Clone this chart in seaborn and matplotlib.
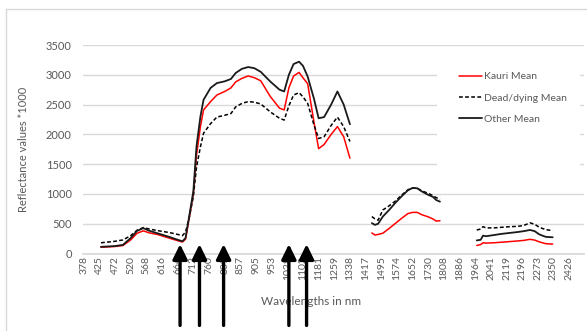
import numpy as np
import pandas as pd
import matplotlib
matplotlib.use("Agg")
import matplotlib.pyplot as plt
from matplotlib.lines import Line2D
from matplotlib.patches import Rectangle
import seaborn as sns

# Wavelength labels shown on the category axis (one label per tick slot)
wavelength_labels = [378, 425, 472, 520, 568, 616, 664, 712, 760, 809, 857, 905,
                     953, 1028, 1102, 1181, 1259, 1338, 1417, 1495, 1574, 1652,
                     1730, 1808, 1886, 1964, 2041, 2119, 2196, 2273, 2350, 2426]

# Band positions (in tick-slot units) for the three usable spectral windows
vnir_pos = [1.1, 2.0, 2.5, 3.0, 3.4, 3.8, 4.2, 4.7, 5.5, 6.0, 6.3, 6.5, 6.75, 7.0,
            7.2, 7.45, 7.65, 8.1, 8.5, 9.0, 9.4, 9.7, 10.1, 10.5, 10.9, 11.3,
            11.9, 12.5, 12.8, 13.1, 13.4, 13.75, 14.0, 14.3, 14.7, 15.0, 15.35,
            15.8, 16.2, 16.6, 17.0]
swir1_pos = [18.4, 18.6, 18.8, 19.1, 19.5, 19.9, 20.3, 20.7, 21.0, 21.3, 21.6,
             22.0, 22.3, 22.5, 22.75]
swir2_pos = [25.1, 25.35, 25.5, 25.7, 26.2, 26.7, 27.2, 27.7, 28.1, 28.5, 28.8,
             29.1, 29.5, 29.95]

# Mean reflectance (x1000) per class
kauri_vnir = [105, 118, 133, 230, 340, 380, 345, 320, 255, 215, 193, 240, 620, 1000,
              1650, 2130, 2410, 2550, 2660, 2720, 2780, 2880, 2940, 2980, 2950, 2900,
              2640, 2440, 2410, 2780, 2980, 3040, 2950, 2850, 2210, 1760, 1830,
              2000, 2130, 1960, 1600]
dead_vnir = [180, 205, 228, 300, 390, 435, 410, 385, 350, 320, 300, 360, 620, 960,
             1450, 1790, 2020, 2180, 2290, 2320, 2350, 2460, 2520, 2550, 2540, 2510,
             2380, 2270, 2240, 2480, 2660, 2700, 2630, 2520, 2160, 1930, 1960,
             2150, 2290, 2130, 1880]
other_vnir = [112, 125, 145, 260, 380, 425, 380, 340, 275, 230, 205, 260, 650, 1050,
              1800, 2300, 2580, 2780, 2860, 2890, 2930, 3030, 3100, 3130, 3110, 3050,
              2890, 2750, 2720, 3000, 3180, 3220, 3150, 2970, 2600, 2270, 2290,
              2500, 2720, 2500, 2170]

kauri_swir1 = [345, 310, 320, 340, 420, 505, 590, 670, 690, 690, 650, 615, 580, 545, 550]
dead_swir1 = [620, 580, 560, 730, 800, 880, 980, 1070, 1100, 1095, 1050, 1010, 970, 940, 910]
other_swir1 = [510, 480, 500, 620, 730, 850, 960, 1060, 1100, 1095, 1040, 985, 950, 900, 870]

kauri_swir2 = [135, 150, 180, 175, 180, 190, 200, 210, 220, 238, 225, 195, 165, 158]
dead_swir2 = [395, 410, 450, 430, 430, 440, 450, 455, 470, 515, 490, 440, 400, 385]
other_swir2 = [220, 230, 300, 290, 310, 330, 345, 360, 375, 395, 375, 320, 280, 272]

# Key wavelengths highlighted with arrows (tick-slot units)
arrow_at = [6.15, 7.39, 8.93, 13.1, 14.23]

series_names = ["Kauri Mean", "Dead/dying Mean", "Other Mean"]

segments = [
    (vnir_pos, kauri_vnir, dead_vnir, other_vnir),
    (swir1_pos, kauri_swir1, dead_swir1, other_swir1),
    (swir2_pos, kauri_swir2, dead_swir2, other_swir2),
]

sns.set_theme(style="white")
plt.rcParams["font.family"] = ["Lato", "DejaVu Sans"]
TEXT = "#595959"

W, H = 587, 331
fig = plt.figure(figsize=(W / 100, H / 100), dpi=100)
ax = fig.add_axes([83 / W, (H - 253.5) / H, (584 - 83) / W, 208.5 / H])

styles = {
    "Kauri Mean": dict(color="#ff0000", lw=1.1, ls="-"),
    "Dead/dying Mean": dict(color="#000000", lw=1.1, ls=(0, (2.5, 1.5))),
    "Other Mean": dict(color="#1a1a1a", lw=1.3, ls="-"),
}

for pos, k, d, o in segments:
    df = pd.DataFrame({"pos": pos, "Kauri Mean": k, "Dead/dying Mean": d, "Other Mean": o})
    for name in series_names:
        st = styles[name]
        sns.lineplot(data=df, x="pos", y=name, ax=ax, color=st["color"],
                     linewidth=st["lw"], linestyle=st["ls"], sort=False,
                     estimator=None, legend=False, zorder=3)

ax.set_xlim(-0.05, 31.95)
ax.set_ylim(0, 3500)
ax.set_yticks(np.arange(0, 3501, 500))
ax.set_xticks(range(len(wavelength_labels)))
ax.set_xticklabels([str(v) for v in wavelength_labels], rotation=90)
ax.tick_params(axis="x", length=0, pad=2, labelsize=7.5, labelcolor=TEXT)
ax.tick_params(axis="y", length=0, pad=8, labelsize=8, labelcolor=TEXT)
ax.grid(axis="y", color="#d9d9d9", lw=1.0, zorder=0)
ax.grid(axis="x", visible=False)
for side in ["top", "right", "left"]:
    ax.spines[side].set_visible(False)
ax.spines["bottom"].set_color("#d9d9d9")
ax.set_axisbelow(True)

ax.set_ylabel("Reflectance values *1000", fontsize=8, color=TEXT)
ax.yaxis.set_label_coords(-0.108, 0.5)
ax.set_xlabel("Wavelengths in nm", fontsize=8.5, color=TEXT)
ax.xaxis.set_label_coords(0.455, -0.205)

# Arrows marking the bands of interest, running up from below the axis
for xa in arrow_at:
    ax.annotate("", xy=(xa, 0.045), xycoords=("data", "axes fraction"),
                xytext=(xa, -0.345), textcoords=("data", "axes fraction"),
                annotation_clip=False,
                arrowprops=dict(arrowstyle="-|>,head_length=0.45,head_width=0.22",
                                mutation_scale=20, lw=2.4, color="black",
                                shrinkA=0, shrinkB=0))

# Legend panel on a white background
fig.add_artist(Rectangle((437 / W, (H - 175) / H), 143 / W, 125 / H,
                         transform=fig.transFigure, facecolor="white",
                         edgecolor="none", zorder=2))
handles = [Line2D([], [], color=styles[n]["color"], lw=styles[n]["lw"],
                  ls=styles[n]["ls"]) for n in series_names]
leg = fig.legend(handles, series_names, loc="upper left",
                 bbox_to_anchor=(455 / W, (H - 68) / H), frameon=False,
                 fontsize=7.5, handlelength=2.2, handletextpad=0.2,
                 labelspacing=1.15, borderaxespad=0)
leg.set_zorder(4)
for t in leg.get_texts():
    t.set_color(TEXT)

# Chart-area border
fig.add_artist(Line2D([6 / W, 6 / W], [0, (H - 9) / H], color="#d9d9d9", lw=1.0,
                      transform=fig.transFigure))
fig.add_artist(Line2D([6 / W, 1], [(H - 9) / H, (H - 9) / H], color="#d9d9d9", lw=1.0,
                      transform=fig.transFigure))

fig.savefig("out.png", dpi=100, facecolor="white")
